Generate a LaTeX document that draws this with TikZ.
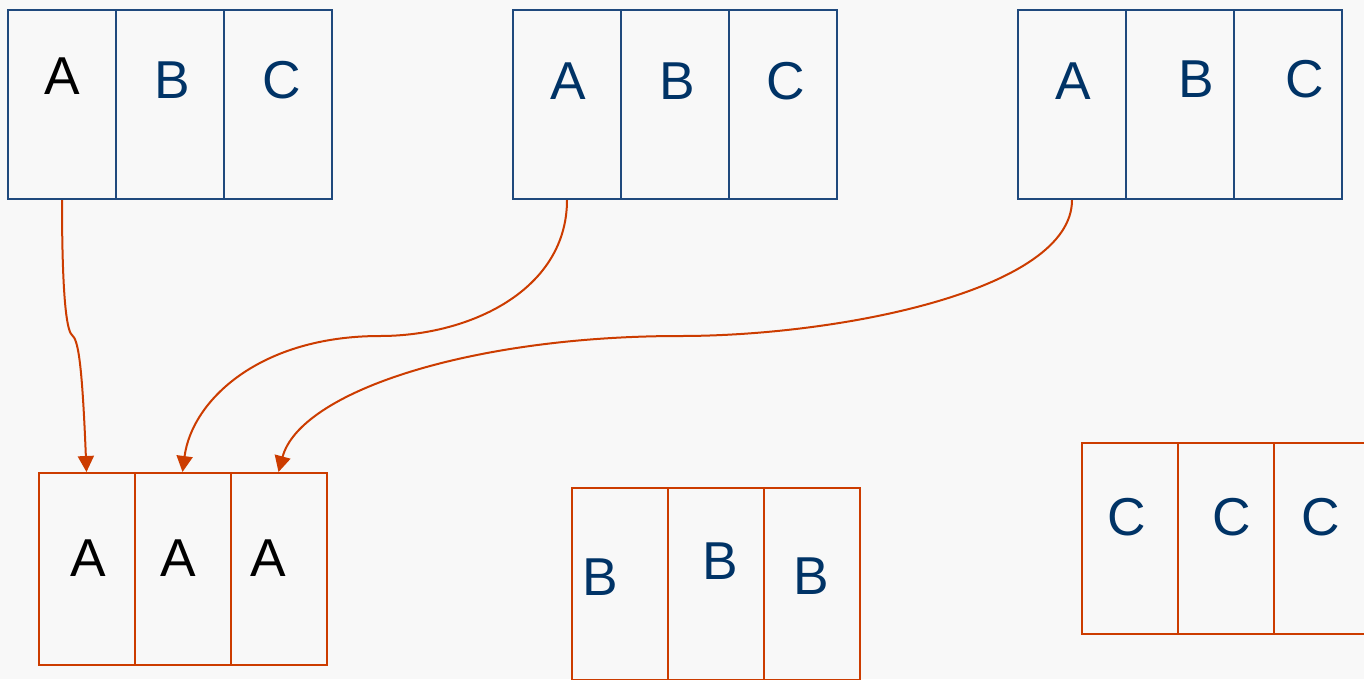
\documentclass[tikz,border=0pt]{standalone}
\usepackage{fontspec}
\setmainfont{Liberation Sans}
\usetikzlibrary{arrows.meta}

\definecolor{boxblue}{RGB}{31,73,125}
\definecolor{txtblue}{RGB}{0,51,102}
\definecolor{rust}{RGB}{204,60,0}
\definecolor{paper}{RGB}{248,248,248}

\tikzset{every picture/.style={line width=0.75pt}}
\tikzset{
  topcell/.style={draw=boxblue, line width=1.5pt, rectangle, inner sep=0pt, minimum width=81pt, minimum height=141.75pt},
  botcell/.style={draw=rust, line width=1.5pt, rectangle, inner sep=0pt, minimum width=72pt, minimum height=144pt},
  letter/.style={inner sep=0pt, font=\fontsize{40}{48}\selectfont, text=txtblue},
  link/.style={draw=rust, line width=1.5pt, -{Triangle[length=12pt,width=12pt]}}
}

\begin{document}
\begin{tikzpicture}[x=0.75pt,y=0.75pt,yscale=-1,xscale=1]
%set diagram left start at 0, and has height of 679
\fill[paper] (0,0) rectangle (1364,679);
\useasboundingbox (0,0) rectangle (1364,679);

%Shape: Rectangle [top left]
\node[topcell] (t1a) at (62,104.5) {};
\node[topcell] (t1b) at (170,104.5) {};
\node[topcell] (t1c) at (278,104.5) {};
%Shape: Rectangle [top middle]
\node[topcell] (t2a) at (567,104.5) {};
\node[topcell] (t2b) at (675,104.5) {};
\node[topcell] (t2c) at (783,104.5) {};
%Shape: Rectangle [top right]
\node[topcell] (t3a) at (1072,104.5) {};
\node[topcell] (t3b) at (1180,104.5) {};
\node[topcell] (t3c) at (1288,104.5) {};

%Shape: Rectangle [bottom A]
\node[botcell] (b1a) at (86.5,569) {};
\node[botcell] (b1b) at (182.5,569) {};
\node[botcell] (b1c) at (278.5,569) {};
%Shape: Rectangle [bottom B]
\node[botcell] (b2a) at (620,584) {};
\node[botcell] (b2b) at (716,584) {};
\node[botcell] (b2c) at (812,584) {};
%Shape: Rectangle [bottom C]
\node[botcell, minimum height=143.25pt] (b3a) at (1130,538.5) {};
\node[botcell, minimum height=143.25pt] (b3b) at (1226,538.5) {};
\node[botcell, minimum height=143.25pt] (b3c) at (1322,538.5) {};

% Text Node
\node[letter, text=black] (t1aTxt) at (62.5,76) {A};
\node[letter] (t1bTxt) at (172.5,80) {B};
\node[letter] (t1cTxt) at (281.5,80) {C};
% Text Node
\node[letter] (t2aTxt) at (568,81) {A};
\node[letter] (t2bTxt) at (677,81) {B};
\node[letter] (t2cTxt) at (786,81) {C};
% Text Node
\node[letter] (t3aTxt) at (1073,81) {A};
\node[letter] (t3bTxt) at (1196,79) {B};
\node[letter] (t3cTxt) at (1305,79) {C};
% Text Node
\node[letter, text=black] (b1aTxt) at (88,558) {A};
\node[letter, text=black] (b1bTxt) at (178,558) {A};
\node[letter, text=black] (b1cTxt) at (268,558) {A};
% Text Node
\node[letter] (b2aTxt) at (600.5,577.5) {B};
\node[letter] (b2bTxt) at (720.5,561.5) {B};
\node[letter] (b2cTxt) at (811,576) {B};
% Text Node
\node[letter] (b3aTxt) at (1126.5,517.5) {C};
\node[letter] (b3bTxt) at (1231.5,517.5) {C};
\node[letter] (b3cTxt) at (1320.5,517.5) {C};

%Curve Lines
\coordinate (bendA) at (72,335);
\coordinate (bendB) at (380,336);
\coordinate (bendC) at (680,336);
\draw[link] (t1a.south) .. controls (62,290) and (66,330) .. (bendA) .. controls (78,340) and (82,360) .. (b1a.north);
\draw[link] (t2a.south) .. controls (567,290) and (470,336) .. (bendB) .. controls (260,336) and (192,400) .. (b1b.north);
\draw[link] (t3a.south) .. controls (1072,290) and (840,336) .. (bendC) .. controls (470,336) and (300,392) .. (b1c.north);

\end{tikzpicture}
\end{document}
